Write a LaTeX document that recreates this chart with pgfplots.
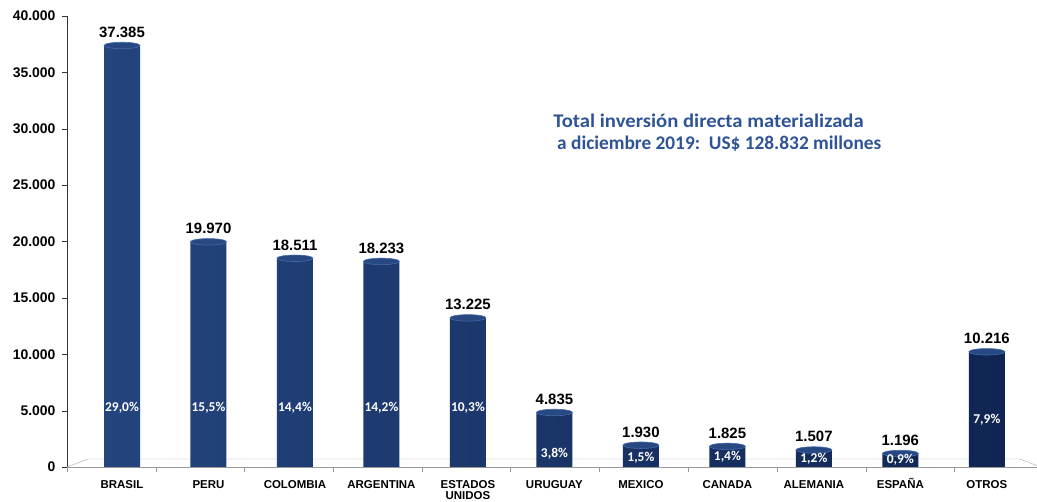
\documentclass[border=0pt]{standalone}
\usepackage{pgfplots}
\pgfplotsset{compat=1.18}
\usepackage{fontspec}
\setmainfont{Liberation Sans}
\newfontfamily\calib{Carlito}
\definecolor{navyM}{RGB}{36,68,126}
\definecolor{navyL}{RGB}{66,106,170}
\definecolor{navyD}{RGB}{16,37,82}
\definecolor{navyT}{RGB}{40,72,130}
\definecolor{titleblue}{RGB}{46,84,150}
\begin{document}
\begin{tikzpicture}
\begin{axis}[
  name=ax,
  at={(0,0)}, anchor=south west,
  scale only axis,
  width=970bp, height=451bp,
  xmin=-0.636, xmax=10.58,
  ymin=0, ymax=40000,
  clip=false,
  axis lines*=left,
  x axis line style={draw=gray!80},
  y axis line style={draw=black!80},
  tick align=outside,
  major tick length=5bp,
  ytick={0,5000,...,40000},
  scaled y ticks=false,
  ytick style={draw=black!80},
  xtick style={draw=gray!80},
  /pgf/number format/.cd, fixed, precision=0, 1000 sep={.}, assume math mode=true,
  /pgfplots/.cd,
  yticklabel style={font=\bfseries\fontsize{14}{14}\selectfont, anchor=east, xshift=-3bp},
  xtick={-0.636,0.39,1.415,2.44,3.47,4.49,5.52,6.55,7.57,8.6,9.62},
  xticklabels={,,,,,,,,,,},
  extra x ticks={0,1,2,3,4,5,6,7,8,9,10},
  extra x tick labels={BRASIL,PERU,COLOMBIA,ARGENTINA,{\begin{tabular}[t]{@{}c@{}}ESTADOS\\UNIDOS\end{tabular}},URUGUAY,MEXICO,CANADA,ALEMANIA,ESPAÑA,OTROS},
  extra x tick style={major tick length=0pt},
  xticklabel style={font=\bfseries\fontsize{11.5}{10.8}\selectfont, anchor=base, yshift=-21.5bp},
]
% 3D floor
\draw[gray!70] (axis cs:-0.636,0) -- (axis cs:-0.393,710) -- (axis cs:10.38,710) -- (axis cs:10.62,0);
\draw[gray!80] (axis cs:10.4,0) -- (axis cs:10.62,0);
% bars
\addplot[ybar, bar width=36bp, draw=none, left color=navyM, middle color=navyL, right color=navyD,
  nodes near coords,
  nodes near coords style={anchor=base, yshift=8bp, text=black, font=\bfseries\fontsize{15}{15}\selectfont}]
  coordinates {(0,37385) (1,19970) (2,18511) (3,18233) (4,13225) (5,4835) (6,1930) (7,1825) (8,1507) (9,1196) (10,10216)};
% cylinder tops
\addplot[only marks, mark=*, mark size=18bp, mark options={yscale=0.18, fill=navyT, draw=navyL, line width=0.6pt}]
  coordinates {(0,37385) (1,19970) (2,18511) (3,18233) (4,13225) (5,4835) (6,1930) (7,1825) (8,1507) (9,1196) (10,10216)};
% percentages
\addplot[only marks, mark=none, point meta=explicit symbolic, nodes near coords,
  nodes near coords style={anchor=center, text=white, font=\calib\bfseries\fontsize{13.5}{13.5}\selectfont}]
  coordinates {(0,5233)[{29,0\%}] (1,5233)[{15,5\%}] (2,5233)[{14,4\%}] (3,5233)[{14,2\%}] (4,5233)[{10,3\%}]
    (5,1153)[{3,8\%}] (6,798)[{1,5\%}] (7,887)[{1,4\%}] (8,710)[{1,2\%}] (9,621)[{0,9\%}] (10,4168)[{7,9\%}]};
% title
\node[anchor=base west, font=\calib\bfseries\fontsize{19.4}{22}\selectfont, text=titleblue, inner sep=0pt, xscale=1.07, transform shape] at (axis cs:4.985,30100) {Total inversión directa materializada};
\node[anchor=base west, font=\calib\bfseries\fontsize{19.4}{22}\selectfont, text=titleblue, inner sep=0pt] at (axis cs:5.03,28150) {a diciembre 2019:\ \ US\$ 128.832 millones};
\end{axis}
\pgfresetboundingbox
\path[use as bounding box] ([xshift=-67bp,yshift=-35bp]ax.south west) rectangle ([yshift=16bp]ax.north east);
\end{tikzpicture}
\end{document}
